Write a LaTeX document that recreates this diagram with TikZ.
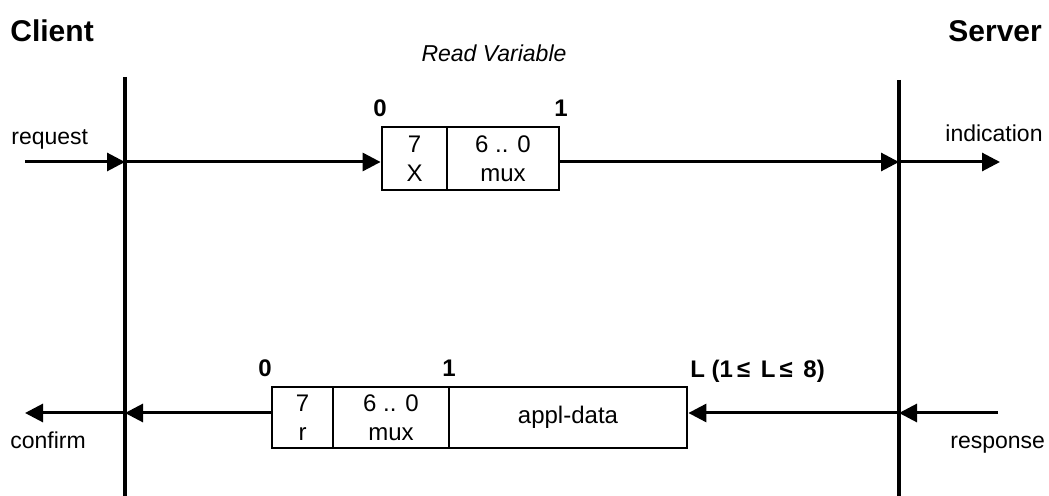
\documentclass[tikz,border=0pt]{standalone}
\usepackage{fontspec}
\setmainfont{Liberation Sans}
\usetikzlibrary{arrows.meta}
\tikzset{
  life/.style={line width=1.7pt},
  msg/.style={line width=1.5pt,-{Triangle[length=9pt,width=9pt]}},
  cell/.style={draw,line width=1.4pt,rectangle,inner sep=0pt,align=center,
    minimum height=31.5pt,font=\fontsize{12}{14.5}\selectfont},
  lbl/.style={anchor=base west,inner sep=0pt,font=\fontsize{11.5}{14}\selectfont},
  head/.style={anchor=base west,inner sep=0pt,font=\fontsize{15}{18}\selectfont\bfseries},
  idx/.style={anchor=base,inner sep=0pt,font=\fontsize{12}{14}\selectfont\bfseries},
}
\begin{document}
\begin{tikzpicture}[x=0.5pt,y=-0.5pt]
\useasboundingbox (0,0) rectangle (1049,496);
% lifelines
\coordinate (cTop) at (125,77);
\coordinate (cBot) at (125,496);
\coordinate (sTop) at (899,80);
\coordinate (sBot) at (899,496);
\draw[life] (cTop) -- (cBot);
\draw[life] (sTop) -- (sBot);
% headings
\node[head] (client) at (10,42) {Client};
\node[head] (server) at (948,42) {Server};
\node[anchor=base,inner sep=0pt,font=\fontsize{11.5}{14}\selectfont\itshape] (title) at (494,62) {Read Variable};
% top frame
\node[cell,minimum width=32.5pt] (c1) at (414.5,158.5) {7\\X};
\node[cell,minimum width=56pt] (c2) at (503,158.5) {6 .. 0\\mux};
\node[idx] (i0) at (380,117) {0};
\node[idx] (i1) at (561,117) {1};
% bottom frame
\node[cell,minimum width=30.5pt,minimum height=30.5pt] (d1) at (302.5,417.5) {7\\r};
\node[cell,minimum width=58pt,minimum height=30.5pt] (d2) at (391,417.5) {6 .. 0\\mux};
\node[cell,minimum width=119pt,minimum height=30.5pt] (d3) at (568,417.5) {appl-data};
\node[idx] (j0) at (265,377) {0};
\node[idx] (j1) at (449,377) {1};
\node[anchor=base west,inner sep=0pt,font=\fontsize{12}{14}\selectfont\bfseries] (jL) at (690,378) {L (1\,≤ \,L\,≤ \,8)};
% labels
\node[lbl] (req) at (11,145) {request};
\node[lbl] (ind) at (945,142) {indication};
\node[lbl] (conf) at (10,449) {confirm};
\node[lbl] (resp) at (950,449) {response};
% top messages
\coordinate (reqS) at (25,162);
\coordinate (cReq) at (125,162);
\coordinate (sInd) at (899,162);
\coordinate (indE) at (1000,162);
\draw[msg] (reqS) -- (cReq);
\draw[msg] (cReq) -- (cReq -| c1.west);
\draw[msg] (sInd -| c2.east) -- (sInd);
\draw[msg] (sInd) -- (indE);
% bottom messages
\coordinate (respS) at (998,413);
\coordinate (sResp) at (899,413);
\coordinate (cConf) at (125,413);
\coordinate (confE) at (25,413);
\draw[msg] (respS) -- (sResp);
\draw[msg] (sResp) -- (sResp -| d3.east);
\draw[msg] (cConf -| d1.west) -- (cConf);
\draw[msg] (cConf) -- (confE);
\end{tikzpicture}
\end{document}
